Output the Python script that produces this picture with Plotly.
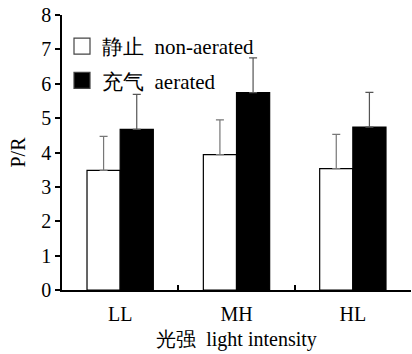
import plotly.graph_objects as go

categories = ["LL", "MH", "HL"]
non_aerated = [3.48, 3.94, 3.53]
non_aerated_err = [0.99, 1.01, 1.0]
aerated = [4.67, 5.74, 4.74]
aerated_err = [1.02, 1.01, 1.01]
series_names = ["静止  non-aerated", "充气  aerated"]

font_fam = "Liberation Serif"

fig = go.Figure()
fig.add_trace(go.Bar(
    x=categories, y=non_aerated, name=series_names[0], showlegend=False,
    marker=dict(color="white", line=dict(color="black", width=1.2)),
    error_y=dict(type="data", array=non_aerated_err, symmetric=False, arrayminus=[0, 0, 0],
                 color="#777777", thickness=1.2, width=4),
))
fig.add_trace(go.Bar(
    x=categories, y=aerated, name=series_names[1], showlegend=False,
    marker=dict(color="black", line=dict(color="black", width=1.2)),
    error_y=dict(type="data", array=aerated_err, symmetric=False, arrayminus=[0, 0, 0],
                 color="#555555", thickness=1.2, width=4),
))
# legend entries
for name, col, grp in [(series_names[0], "white", "a"), (series_names[1], "black", "b")]:
    fig.add_trace(go.Scatter(
        x=[None], y=[None], mode="markers", name=name, legendgroup=grp,
        marker=dict(symbol="square", size=16, color=col, line=dict(color="#444444", width=1.2)),
    ))

fig.update_layout(
    width=412, height=354,
    margin=dict(l=62, r=1, t=15, b=64),
    paper_bgcolor="white", plot_bgcolor="white",
    barmode="group", bargap=0.43, bargroupgap=0,
    font=dict(family=font_fam, size=19, color="black"),
    showlegend=True,
    legend=dict(x=0.0, y=0.96, xanchor="left", yanchor="top",
                bgcolor="rgba(0,0,0,0)", font=dict(size=21, family=font_fam),
                tracegroupgap=4, itemsizing="trace"),
)
fig.update_xaxes(
    showline=True, linecolor="black", linewidth=1.5,
    ticks="inside", tickson="boundaries", ticklen=5, tickcolor="black", tickwidth=1.5,
    showgrid=False, ticklabelstandoff=5,
    tickfont=dict(size=20, family=font_fam),
    title=dict(text="光强  light intensity", font=dict(size=20, family=font_fam), standoff=8),
)
fig.update_yaxes(
    range=[0, 8], dtick=1, showline=True, linecolor="black", linewidth=1.5,
    ticks="outside", ticklen=5, tickcolor="black", tickwidth=1.5,
    showgrid=False, zeroline=False,
    tickfont=dict(size=20, family=font_fam),
    title=dict(text="P/R", font=dict(size=20, family=font_fam), standoff=10),
)

fig.write_html("out.html", config={"displayModeBar": False},
               post_script="document.body.style.margin='0';")
